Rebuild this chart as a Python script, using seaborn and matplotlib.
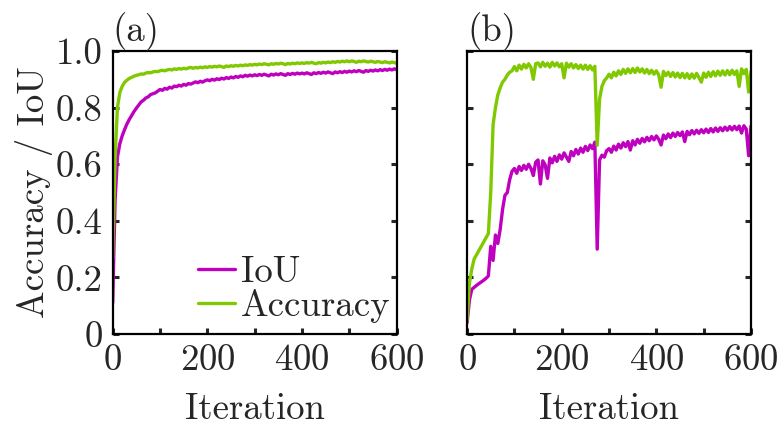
import numpy as np
import pandas as pd
import matplotlib
matplotlib.use('Agg')
import matplotlib.pyplot as plt
from matplotlib.ticker import MultipleLocator
import seaborn as sns

# iterations, sampled every 5 steps
iterations = list(range(0, 601, 5))

# (a) values
iou_a = [0.11, 0.47, 0.625, 0.672, 0.70, 0.722, 0.742, 0.758, 0.772, 0.786,
         0.798, 0.809, 0.82, 0.826, 0.834, 0.838, 0.846, 0.849, 0.852, 0.858,
         0.864, 0.861, 0.868, 0.865, 0.872, 0.869, 0.876, 0.874, 0.879, 0.876,
         0.882, 0.879, 0.885, 0.883, 0.887, 0.891, 0.888, 0.893, 0.89, 0.895,
         0.898, 0.895, 0.9, 0.897, 0.902, 0.899, 0.904, 0.901, 0.906, 0.903,
         0.908, 0.905, 0.91, 0.907, 0.912, 0.909, 0.914, 0.911, 0.915, 0.912,
         0.916, 0.913, 0.917, 0.914, 0.918, 0.915, 0.912, 0.918, 0.915, 0.919,
         0.916, 0.92, 0.917, 0.914, 0.92, 0.917, 0.921, 0.918, 0.922, 0.919,
         0.922, 0.919, 0.923, 0.92, 0.917, 0.923, 0.92, 0.924, 0.921, 0.925,
         0.922, 0.926, 0.923, 0.92, 0.926, 0.923, 0.927, 0.924, 0.928, 0.925,
         0.929, 0.926, 0.93, 0.927, 0.931, 0.928, 0.925, 0.931, 0.928, 0.932,
         0.929, 0.933, 0.93, 0.934, 0.931, 0.935, 0.932, 0.936, 0.933, 0.937,
         0.934]
acc_a = [0.27, 0.62, 0.80, 0.853, 0.875, 0.889, 0.897, 0.903, 0.907, 0.911,
         0.914, 0.916, 0.919, 0.918, 0.922, 0.924, 0.923, 0.926, 0.928, 0.927,
         0.93, 0.932, 0.93, 0.933, 0.935, 0.933, 0.937, 0.935, 0.938, 0.936,
         0.939, 0.937, 0.94, 0.942, 0.939, 0.942, 0.94, 0.943, 0.941, 0.944,
         0.942, 0.945, 0.943, 0.946, 0.944, 0.947, 0.945, 0.942, 0.947, 0.945,
         0.948, 0.946, 0.949, 0.947, 0.95, 0.948, 0.951, 0.949, 0.952, 0.95,
         0.953, 0.951, 0.954, 0.952, 0.955, 0.953, 0.951, 0.955, 0.953, 0.956,
         0.954, 0.957, 0.955, 0.952, 0.956, 0.954, 0.957, 0.955, 0.958, 0.956,
         0.958, 0.956, 0.959, 0.957, 0.96, 0.957, 0.955, 0.959, 0.957, 0.96,
         0.958, 0.961, 0.959, 0.962, 0.96, 0.963, 0.961, 0.964, 0.962, 0.965,
         0.962, 0.965, 0.963, 0.96, 0.964, 0.962, 0.965, 0.963, 0.961, 0.964,
         0.962, 0.96, 0.963, 0.961, 0.959, 0.962, 0.96, 0.958, 0.961, 0.959,
         0.957]

# (b)
iou_b = [0.04, 0.12, 0.158, 0.165, 0.172, 0.178, 0.184, 0.19, 0.197, 0.205,
         0.31, 0.26, 0.35, 0.32, 0.37, 0.44, 0.49, 0.50, 0.545, 0.575,
         0.585, 0.568, 0.592, 0.578, 0.596, 0.582, 0.60, 0.585, 0.56, 0.607,
         0.615, 0.53, 0.612, 0.598, 0.55, 0.622, 0.605, 0.628, 0.61, 0.633,
         0.618, 0.64, 0.625, 0.61, 0.645, 0.63, 0.652, 0.636, 0.657, 0.642,
         0.663, 0.648, 0.668, 0.655, 0.678, 0.30, 0.615, 0.632, 0.625, 0.648,
         0.655, 0.642, 0.664, 0.65, 0.671, 0.657, 0.676, 0.662, 0.68, 0.65,
         0.683, 0.668, 0.688, 0.674, 0.691, 0.679, 0.695, 0.683, 0.698, 0.686,
         0.70, 0.688, 0.668, 0.703, 0.69, 0.707, 0.694, 0.71, 0.698, 0.712,
         0.701, 0.714, 0.68, 0.716, 0.704, 0.719, 0.707, 0.72, 0.709, 0.722,
         0.711, 0.724, 0.712, 0.726, 0.714, 0.728, 0.716, 0.729, 0.718, 0.731,
         0.72, 0.733, 0.721, 0.734, 0.722, 0.735, 0.71, 0.736, 0.724, 0.63,
         0.735]
acc_b = [0.05, 0.18, 0.23, 0.265, 0.28, 0.295, 0.31, 0.325, 0.34, 0.355,
         0.50, 0.74, 0.80, 0.845, 0.87, 0.89, 0.90, 0.915, 0.925, 0.93,
         0.945, 0.93, 0.95, 0.936, 0.953, 0.94, 0.955, 0.942, 0.90, 0.955,
         0.958, 0.944, 0.96, 0.946, 0.957, 0.943, 0.96, 0.947, 0.958, 0.944,
         0.955, 0.905, 0.957, 0.943, 0.955, 0.94, 0.952, 0.938, 0.95, 0.936,
         0.95, 0.935, 0.948, 0.933, 0.946, 0.667, 0.83, 0.875, 0.895, 0.905,
         0.918, 0.905, 0.925, 0.912, 0.93, 0.917, 0.935, 0.921, 0.937, 0.923,
         0.938, 0.924, 0.94, 0.926, 0.937, 0.922, 0.935, 0.92, 0.932, 0.918,
         0.93, 0.915, 0.872, 0.928, 0.913, 0.925, 0.91, 0.924, 0.908, 0.922,
         0.906, 0.921, 0.905, 0.92, 0.903, 0.919, 0.904, 0.921, 0.906, 0.89,
         0.922, 0.907, 0.925, 0.91, 0.927, 0.912, 0.929, 0.914, 0.93, 0.915,
         0.931, 0.916, 0.932, 0.917, 0.93, 0.875, 0.937, 0.92, 0.935, 0.855,
         0.928]

series_names = ['IoU', 'Accuracy']
colors = ['#BF00BF', '#80C800']
y_ticks = [0, 0.2, 0.4, 0.6, 0.8, 1.0]
y_ticklabels = ['0', '0.2', '0.4', '0.6', '0.8', '1.0']
x_ticks = [0, 200, 400, 600]

sns.set_style('ticks')
plt.rcParams['font.family'] = ['cmr10', 'DejaVu Serif']
plt.rcParams['axes.formatter.use_mathtext'] = True
plt.rcParams['font.size'] = 26.5


def long_df(iou, acc):
    return pd.DataFrame({
        'Iteration': iterations * 2,
        'value': iou + acc,
        'metric': ['IoU'] * len(iou) + ['Accuracy'] * len(acc),
    })


fig, axes = plt.subplots(1, 2, figsize=(7.81, 4.25), dpi=100)
fig.subplots_adjust(left=0.1443, right=0.9616, bottom=0.214, top=0.88, wspace=0.248)

panels = [(long_df(iou_a, acc_a), '(a)'), (long_df(iou_b, acc_b), '(b)')]
for i, (ax, (df, tag)) in enumerate(zip(axes, panels)):
    sns.lineplot(data=df, x='Iteration', y='value', hue='metric',
                 hue_order=series_names, palette=colors, lw=2.4,
                 ax=ax, legend=(i == 0))
    ax.set_xlim(0, 600)
    ax.set_ylim(0, 1.0)
    ax.set_xticks(x_ticks)
    ax.xaxis.set_minor_locator(MultipleLocator(100))
    ax.set_yticks(y_ticks)
    if i == 0:
        ax.set_yticklabels(y_ticklabels)
        ax.set_ylabel('Accuracy / IoU', labelpad=2)
    else:
        ax.set_yticklabels([])
        ax.set_ylabel('')
    ax.set_xlabel('Iteration', labelpad=11)
    ax.tick_params(which='both', direction='in', length=4, width=2.2,
                   right=True, top=False, labelsize=26.5, pad=7)
    for sp in ax.spines.values():
        sp.set_linewidth(1.6)
        sp.set_color('black')
    ax.text(0.0, 1.035, tag, transform=ax.transAxes, ha='left', va='baseline', fontsize=26.5)

leg = axes[0].legend(loc='lower right', bbox_to_anchor=(1.055, -0.04), frameon=False,
                     handlelength=1.0, handletextpad=0.15, labelspacing=0.02,
                     borderpad=0.1, fontsize=26.5)
for line in leg.get_lines():
    line.set_linewidth(2.4)

fig.savefig('out.png', dpi=100)
